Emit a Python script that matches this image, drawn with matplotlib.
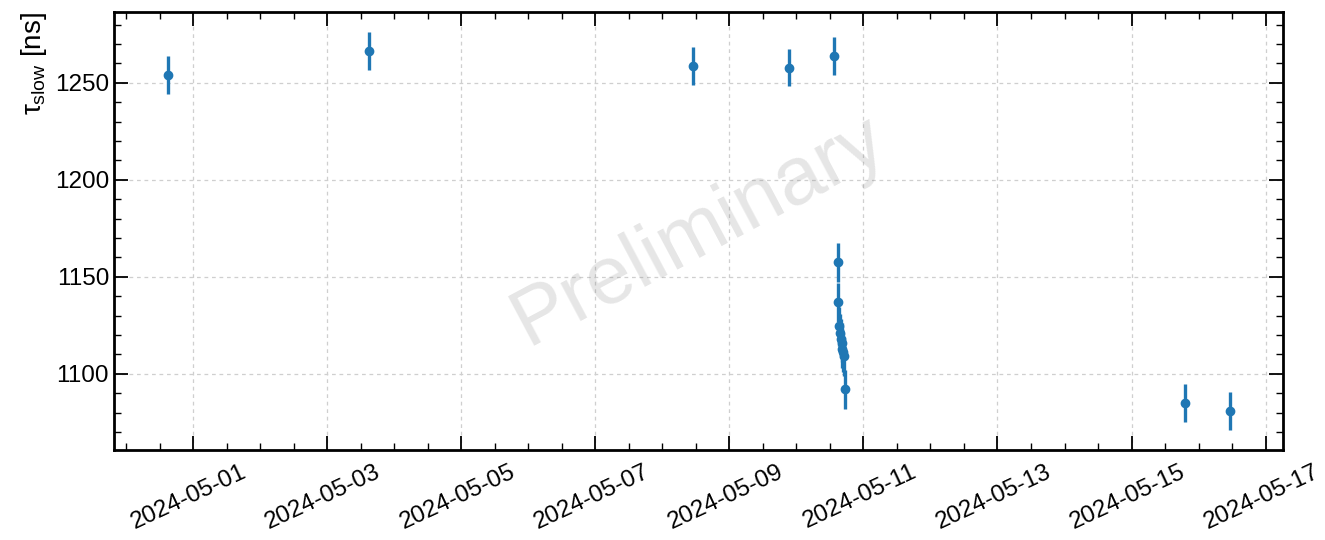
import matplotlib
matplotlib.use('Agg')
import matplotlib.pyplot as plt
import matplotlib.dates as mdates
import matplotlib.transforms as mtrans
import numpy as np
import pandas as pd

# tau_slow fit results per run
times = [
    '2024-04-30 15:05', '2024-05-03 15:00', '2024-05-08 10:55', '2024-05-09 21:20',
    '2024-05-10 13:35', '2024-05-10 14:55', '2024-05-10 15:00', '2024-05-10 15:10',
    '2024-05-10 15:30', '2024-05-10 15:50', '2024-05-10 16:10', '2024-05-10 16:30',
    '2024-05-10 16:50', '2024-05-10 17:10', '2024-05-10 17:30',
    '2024-05-15 19:05', '2024-05-16 11:10',
]
tau_slow = [1254.1, 1266.5, 1258.6, 1257.9, 1263.9, 1157.4, 1136.9, 1124.5,
            1121.0, 1118.0, 1116.0, 1113.0, 1111.0, 1109.0, 1092.0,
            1084.9, 1080.9]
tau_err = [9.7, 9.7, 9.7, 9.7, 9.7, 10.0, 10.0, 10.0,
           10.0, 10.0, 10.0, 10.0, 10.0, 10.0, 10.0,
           9.7, 9.7]

plt.rcParams['font.family'] = ['Liberation Sans', 'DejaVu Sans']
plt.rcParams['mathtext.fontset'] = 'custom'
plt.rcParams['mathtext.rm'] = 'Liberation Sans'
plt.rcParams['mathtext.it'] = 'Liberation Sans'

dates = pd.to_datetime(times)

fig = plt.figure(figsize=(13.25, 5.4), dpi=100)
ax = fig.add_axes([0.086, 0.167, 0.882, 0.811])

ax.errorbar(dates, tau_slow, yerr=tau_err, fmt='o', color='#1f77b4',
            markersize=6, elinewidth=2.4, zorder=3)

ax.text(0.5, 0.5, 'Preliminary', transform=ax.transAxes, fontsize=59,
        color='grey', alpha=0.2, rotation=28, ha='center', va='center',
        zorder=2)

ax.set_xlim(pd.Timestamp('2024-04-29 19:40'), pd.Timestamp('2024-05-17 06:05'))
ax.set_ylim(1060.8, 1286.6)

ax.xaxis.set_major_locator(mdates.DayLocator(bymonthday=[1, 3, 5, 7, 9, 11, 13, 15, 17]))
ax.xaxis.set_minor_locator(mdates.HourLocator(byhour=[0, 12]))
ax.xaxis.set_major_formatter(mdates.DateFormatter('%Y-%m-%d'))
ax.yaxis.set_major_locator(plt.MultipleLocator(50))
ax.yaxis.set_minor_locator(plt.MultipleLocator(10))

ax.tick_params(which='both', direction='in', top=True, right=True, labelsize=17.5)
ax.tick_params(axis='x', pad=8)
ax.tick_params(which='major', length=10, width=1.3)
ax.tick_params(which='minor', length=5, width=1.0)
for s in ax.spines.values():
    s.set_linewidth(2)

shift = mtrans.ScaledTranslation(-4 / 100, 0, fig.dpi_scale_trans)
for lbl in ax.get_xticklabels():
    lbl.set_rotation(25)
    lbl.set_ha('center')
    lbl.set_transform(lbl.get_transform() + shift)

ax.grid(True, which='major', linestyle=(0, (3, 3)), color='#cfcfcf', linewidth=0.9)
ax.set_axisbelow(True)

ax.set_ylabel(r'$\tau_{\mathrm{slow}}$ [ns]', fontsize=20, loc='top')

fig.savefig('out.png', dpi=100)
